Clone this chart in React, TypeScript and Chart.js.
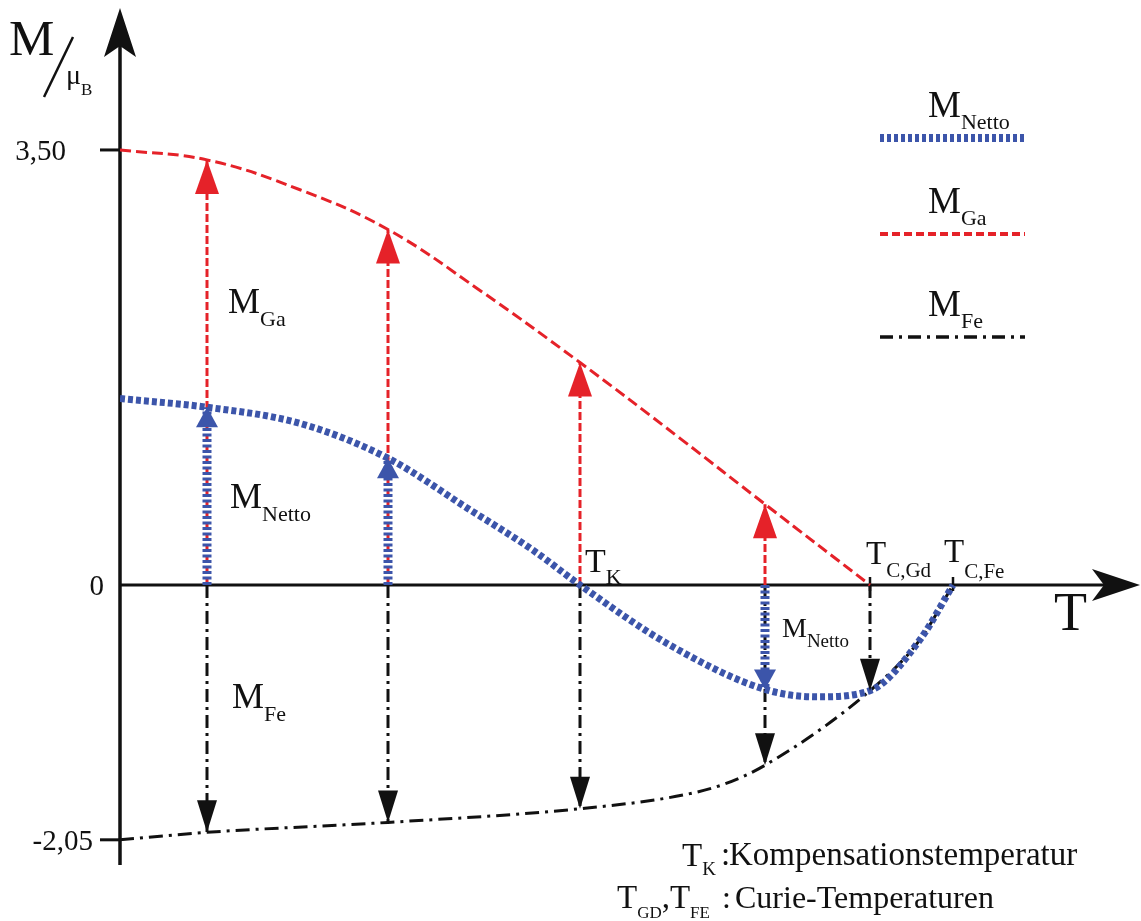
import React, { useEffect, useRef } from "react";
import { Chart, registerables } from "chart.js";

Chart.register(...registerables);

const W = 1141;
const H = 921;

// Temperature in arbitrary units, magnetisation in Bohr magnetons
const T_MIN = 0;
const T_MAX = 10;
const M_MIN = -2.7;
const M_MAX = 4.7;

// Gadolinium sublattice magnetisation
const GA_T = [0, 0.87, 1.8, 2.68, 3.6, 4.6, 5.6, 6.45, 7.5];
const GA_M = [3.5, 3.42, 3.18, 2.86, 2.37, 1.79, 1.18, 0.65, 0];

// Net magnetisation
const NETTO_T = [0, 0.87, 1.8, 2.68, 3.47, 4.13, 4.6, 5.47, 6.45, 6.97, 7.5, 8.0, 8.33];
const NETTO_M = [1.5, 1.43, 1.3, 1.02, 0.62, 0.28, 0, -0.47, -0.84, -0.9, -0.85, -0.44, 0];

// Iron sublattice magnetisation
const FE_T = [0, 0.87, 2.68, 4.6, 5.63, 6.05, 6.45, 7.5, 8.0, 8.33];
const FE_M = [-2.05, -1.99, -1.91, -1.8, -1.69, -1.6, -1.45, -0.85, -0.44, 0];

// Vertical arrows at selected temperatures
const ARROW_T = [0.87, 2.68, 4.6, 6.45, 7.5];
const ARROW_GA = [3.42, 2.86, 1.79, 0.65, 0];
const ARROW_NETTO = [1.43, 1.02, 0, -0.84, -0.85];
const ARROW_FE = [-1.99, -1.91, -1.8, -1.45, -0.85];

// Axis ticks
const Y_TICKS = [3.5, 0, -2.05];
const Y_TICK_LABELS = ["3,50", "0", "-2,05"];

// Characteristic temperatures
const T_K = 4.6;
const T_C_GD = 7.5;
const T_C_FE = 8.33;

const RED = "#e52229";
const BLUE = "#3c55aa";
const BLACK = "#111111";
const SERIF = '"Liberation Serif", "Times New Roman", serif';

const zip = (xs: number[], ys: number[]) => xs.map((x, i) => ({ x, y: ys[i] }));

function font(size: number) {
  return `${size}px ${SERIF}`;
}

// Draws main text followed by a subscript; returns the x after the subscript
function drawSub(
  ctx: CanvasRenderingContext2D,
  main: string,
  sub: string,
  x: number,
  base: number,
  mainSize: number,
  subSize: number,
  drop: number
) {
  ctx.font = font(mainSize);
  ctx.fillText(main, x, base);
  const w = ctx.measureText(main).width;
  ctx.font = font(subSize);
  ctx.fillText(sub, x + w, base + drop);
  return x + w + ctx.measureText(sub).width;
}

function arrowHead(
  ctx: CanvasRenderingContext2D,
  x: number,
  tipY: number,
  dir: number,
  len: number,
  half: number,
  color: string
) {
  ctx.fillStyle = color;
  ctx.beginPath();
  ctx.moveTo(x, tipY);
  ctx.lineTo(x - half, tipY + dir * len);
  ctx.lineTo(x + half, tipY + dir * len);
  ctx.closePath();
  ctx.fill();
}

const decor = {
  id: "decor",
  beforeDatasetsDraw(chart: any) {
    const ctx: CanvasRenderingContext2D = chart.ctx;
    const xs = chart.scales.x;
    const ys = chart.scales.y;
    const x0 = xs.getPixelForValue(0);
    const y0 = ys.getPixelForValue(0);
    ctx.save();
    ctx.strokeStyle = BLACK;
    ctx.fillStyle = BLACK;
    ctx.setLineDash([]);

    // vertical axis with arrow
    ctx.lineWidth = 3.5;
    ctx.beginPath();
    ctx.moveTo(x0, 865);
    ctx.lineTo(x0, 45);
    ctx.stroke();
    ctx.beginPath();
    ctx.moveTo(x0, 8);
    ctx.lineTo(x0 + 16, 57);
    ctx.lineTo(x0, 46);
    ctx.lineTo(x0 - 16, 57);
    ctx.closePath();
    ctx.fill();

    // horizontal axis with arrow
    ctx.lineWidth = 3;
    ctx.beginPath();
    ctx.moveTo(x0, y0);
    ctx.lineTo(1105, y0);
    ctx.stroke();
    ctx.beginPath();
    ctx.moveTo(1140, y0);
    ctx.lineTo(1092, y0 - 16);
    ctx.lineTo(1104, y0);
    ctx.lineTo(1092, y0 + 16);
    ctx.closePath();
    ctx.fill();

    // y ticks and labels
    ctx.lineWidth = 3;
    ctx.font = font(29);
    ctx.textAlign = "right";
    Y_TICKS.forEach((v, i) => {
      const py = ys.getPixelForValue(v);
      if (v !== 0) {
        ctx.beginPath();
        ctx.moveTo(x0 - 20, py);
        ctx.lineTo(x0, py);
        ctx.stroke();
      }
      ctx.fillText(Y_TICK_LABELS[i], v === 0 ? 104 : v > 0 ? 66 : 93, py + 10);
    });
    ctx.textAlign = "left";

    // Curie temperature ticks
    ctx.lineWidth = 2.5;
    [T_C_GD, T_C_FE].forEach((t) => {
      const px = xs.getPixelForValue(t);
      ctx.beginPath();
      ctx.moveTo(px, y0 - 8);
      ctx.lineTo(px, y0 + 6);
      ctx.stroke();
    });
    ctx.restore();
  },
  afterDatasetsDraw(chart: any) {
    const ctx: CanvasRenderingContext2D = chart.ctx;
    const xs = chart.scales.x;
    const ys = chart.scales.y;
    ctx.save();
    ctx.setLineDash([]);

    // arrowheads
    ARROW_T.forEach((t, i) => {
      const px = xs.getPixelForValue(t);
      const ga = ARROW_GA[i];
      const net = ARROW_NETTO[i];
      const fe = ARROW_FE[i];
      arrowHead(ctx, px, ys.getPixelForValue(fe), -1, 32, 10, BLACK);
      if (ga > 0) arrowHead(ctx, px, ys.getPixelForValue(ga), 1, 34, 12, RED);
      if (ga > 0 && net !== 0) {
        arrowHead(ctx, px, ys.getPixelForValue(net), net > 0 ? 1 : -1, 20, 11, BLUE);
      }
    });

    ctx.fillStyle = BLACK;
    ctx.textAlign = "left";

    // axis titles
    ctx.font = font(51);
    ctx.fillText("M", 9, 55);
    ctx.lineWidth = 2.5;
    ctx.strokeStyle = BLACK;
    ctx.beginPath();
    ctx.moveTo(44, 97);
    ctx.lineTo(73, 37);
    ctx.stroke();
    drawSub(ctx, "μ", "B", 66, 84, 28, 17, 11);
    ctx.font = font(54);
    ctx.fillText("T", 1054, 630);

    // arrow labels
    drawSub(ctx, "M", "Ga", 228, 313, 36, 22, 13);
    drawSub(ctx, "M", "Netto", 230, 508, 36, 22, 13);
    drawSub(ctx, "M", "Fe", 232, 708, 36, 22, 13);
    drawSub(ctx, "M", "Netto", 782, 637, 28, 19, 10);

    // characteristic temperatures
    const y0 = ys.getPixelForValue(0);
    drawSub(ctx, "T", "K", xs.getPixelForValue(T_K) + 5, y0 - 13, 34, 22, 12);
    drawSub(ctx, "T", "C,Gd", xs.getPixelForValue(T_C_GD) - 4, y0 - 21, 33, 21, 13);
    drawSub(ctx, "T", "C,Fe", xs.getPixelForValue(T_C_FE) - 9, y0 - 23, 33, 21, 16);

    // legend
    const legend: [string, string, string, number[], number, number][] = [
      ["M", "Netto", BLUE, [4, 3], 8, 117],
      ["M", "Ga", RED, [8, 4], 4, 213],
      ["M", "Fe", BLACK, [13, 6, 3, 6], 3.5, 316],
    ];
    legend.forEach(([m, s, color, dash, lw, base]) => {
      ctx.fillStyle = BLACK;
      drawSub(ctx, m, s, 928, base, 37, 22, 12);
      ctx.strokeStyle = color;
      ctx.lineWidth = lw;
      ctx.setLineDash(dash);
      ctx.beginPath();
      ctx.moveTo(880, base + 21);
      ctx.lineTo(1025, base + 21);
      ctx.stroke();
    });
    ctx.setLineDash([]);

    // footnotes
    ctx.fillStyle = BLACK;
    drawSub(ctx, "T", "K", 682, 866, 33, 19, 9);
    ctx.font = font(33);
    ctx.fillText(":", 721, 865);
    ctx.fillText("Kompensationstemperatur", 729, 865);
    let cx = drawSub(ctx, "T", "GD", 617, 908, 33, 17, 10);
    ctx.font = font(33);
    ctx.fillText(",", cx, 908);
    cx += ctx.measureText(",").width;
    drawSub(ctx, "T", "FE", cx, 908, 33, 17, 10);
    ctx.font = font(32);
    ctx.fillText(":", 722, 908);
    ctx.fillText("Curie-Temperaturen", 735, 908);

    ctx.restore();
  },
};

export default function App() {
  const ref = useRef<HTMLCanvasElement | null>(null);

  useEffect(() => {
    if (!ref.current) return;

    const shaft = (t: number, from: number, to: number) => [
      { x: t, y: from },
      { x: t, y: to },
    ];

    const datasets: any[] = [];

    ARROW_T.forEach((t, i) => {
      const ga = ARROW_GA[i];
      const net = ARROW_NETTO[i];
      const fe = ARROW_FE[i];
      if (ga > 0) {
        datasets.push({
          data: shaft(t, 0, ga),
          borderColor: RED,
          borderWidth: 3,
          borderDash: [8, 3],
          order: 6,
        });
      }
      datasets.push({
        data: shaft(t, 0, fe),
        borderColor: BLACK,
        borderWidth: 3,
        borderDash: [13, 5, 3, 5],
        order: 5,
      });
      if (ga > 0 && net !== 0) {
        datasets.push({
          data: shaft(t, 0, net),
          borderColor: BLUE,
          borderWidth: 9,
          borderDash: [3, 2.5],
          order: 1,
        });
      }
    });

    datasets.push(
      {
        label: "M_Ga",
        data: zip(GA_T, GA_M),
        borderColor: RED,
        borderWidth: 3,
        borderDash: [11, 5],
        tension: 0.4,
        order: 4,
      },
      {
        label: "M_Fe",
        data: zip(FE_T, FE_M),
        borderColor: BLACK,
        borderWidth: 3,
        borderDash: [14, 6, 3, 6],
        cubicInterpolationMode: "monotone",
        order: 3,
      },
      {
        label: "M_Netto",
        data: zip(NETTO_T, NETTO_M),
        borderColor: BLUE,
        borderWidth: 7,
        borderDash: [5, 3],
        cubicInterpolationMode: "monotone",
        order: 2,
      }
    );

    datasets.forEach((d) => {
      d.showLine = true;
      d.pointRadius = 0;
      d.pointHoverRadius = 0;
      d.fill = false;
    });

    const chart = new Chart(ref.current, {
      type: "scatter",
      data: { datasets },
      options: {
        animation: false,
        responsive: false,
        devicePixelRatio: 1,
        layout: { padding: { left: 120, right: 21, top: 0.8, bottom: 0.4 } },
        scales: {
          x: { type: "linear", min: T_MIN, max: T_MAX, display: false },
          y: { type: "linear", min: M_MIN, max: M_MAX, display: false },
        },
        plugins: {
          legend: { display: false },
          tooltip: { enabled: false },
        },
        events: [],
      },
      plugins: [decor],
    });

    return () => chart.destroy();
  }, []);

  return (
    <div style={{ position: "absolute", left: 0, top: 0, width: W, height: H, background: "#fff" }}>
      <canvas ref={ref} width={W} height={H} style={{ width: W, height: H, display: "block" }} />
    </div>
  );
}
